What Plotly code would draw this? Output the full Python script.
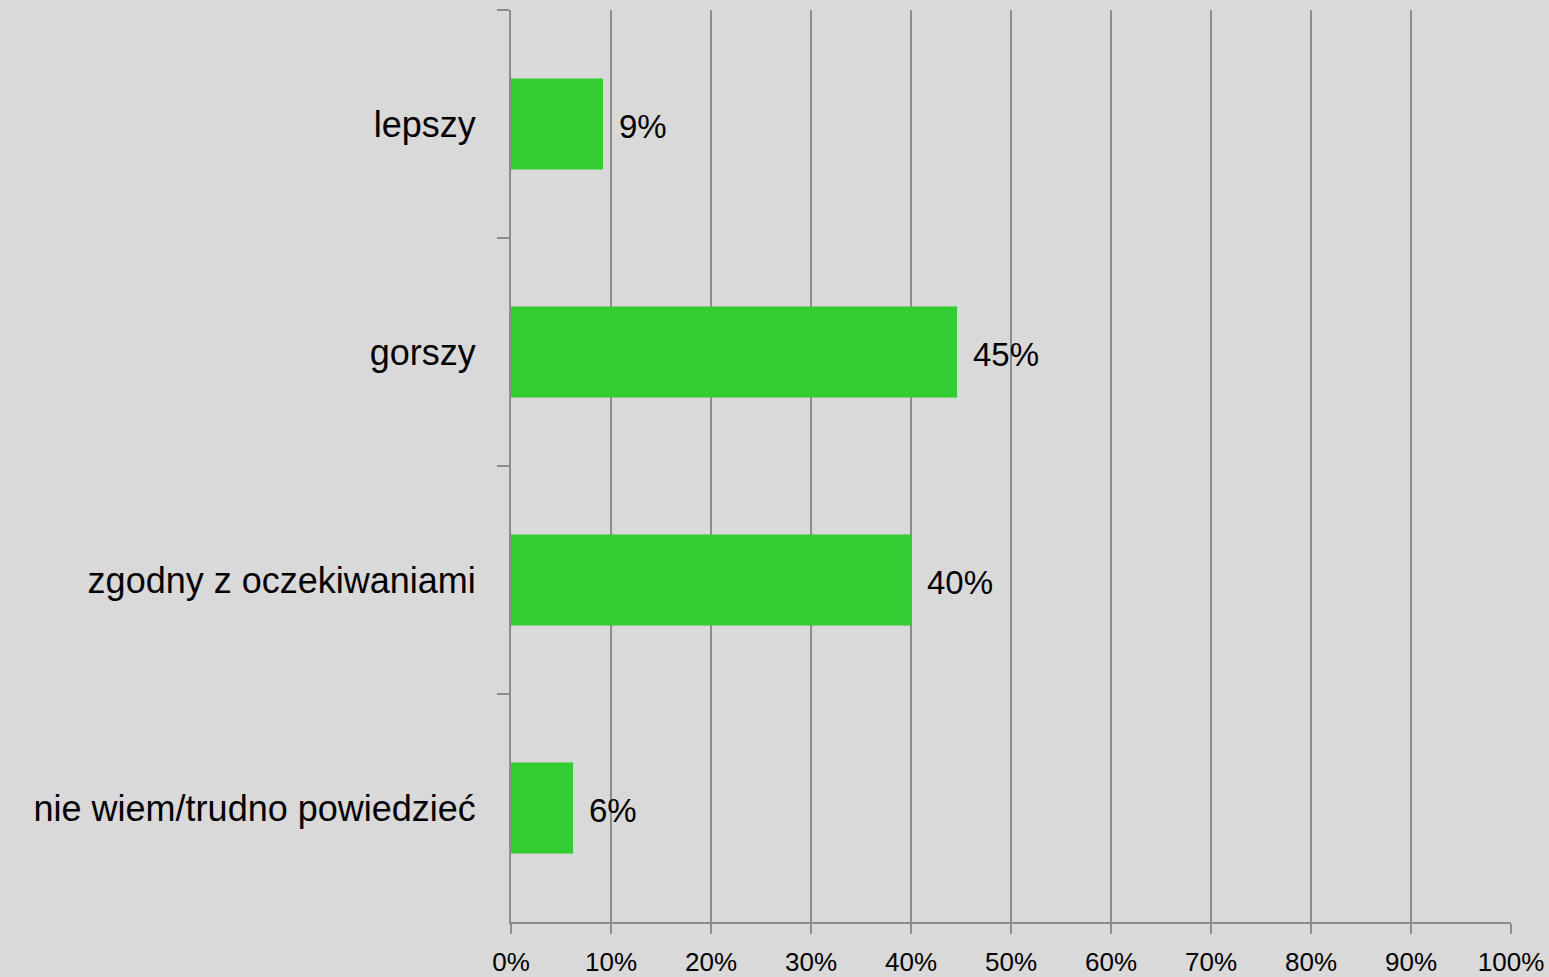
import plotly.graph_objects as go

categories = ["lepszy", "gorszy", "zgodny z oczekiwaniami", "nie wiem/trudno powiedzieć"]
values = [9.2, 44.6, 40.0, 6.2]
x_ticks = list(range(0, 101, 10))
x_tick_labels = [f"{v}%" for v in x_ticks]

BG = "#d9d9d9"
GRID = "#8c8c8c"
FONT = "Liberation Sans"

fig = go.Figure()
fig.add_trace(go.Bar(
    x=values,
    y=categories,
    orientation="h",
    marker=dict(color="#33cc33", line=dict(width=0)),
    width=0.4,
    hoverinfo="skip",
))

for cat, val in zip(categories, values):
    fig.add_annotation(
        x=val, y=cat, xref="x", yref="y",
        text=f"{val:.0f}%",
        showarrow=False, xanchor="left", yanchor="middle",
        xshift=14, yshift=-2,
        font=dict(family=FONT, size=33, color="black"),
    )

fig.update_layout(
    width=1549, height=977,
    margin=dict(l=511, r=38, t=10, b=55),
    paper_bgcolor=BG, plot_bgcolor=BG,
    showlegend=False,
    font=dict(family=FONT, color="black"),
)
fig.update_xaxes(
    range=[0, 100],
    tickvals=x_ticks, ticktext=x_tick_labels,
    tickfont=dict(size=26),
    showgrid=True, gridcolor=GRID, gridwidth=2,
    showline=True, linecolor=GRID, linewidth=2,
    ticks="outside", ticklen=10, tickcolor=GRID, tickwidth=2,
    ticklabelstandoff=6,
    zeroline=False,
    automargin=False,
    fixedrange=True,
)
fig.update_yaxes(
    categoryorder="array", categoryarray=categories,
    autorange="reversed",
    tickfont=dict(size=36),
    showgrid=False,
    showline=True, linecolor=GRID, linewidth=2,
    ticks="outside", ticklen=12, tickcolor=GRID, tickwidth=2,
    tickson="boundaries",
    ticklabelstandoff=26,
    automargin=False,
    fixedrange=True,
)

fig.write_html("out.html")
